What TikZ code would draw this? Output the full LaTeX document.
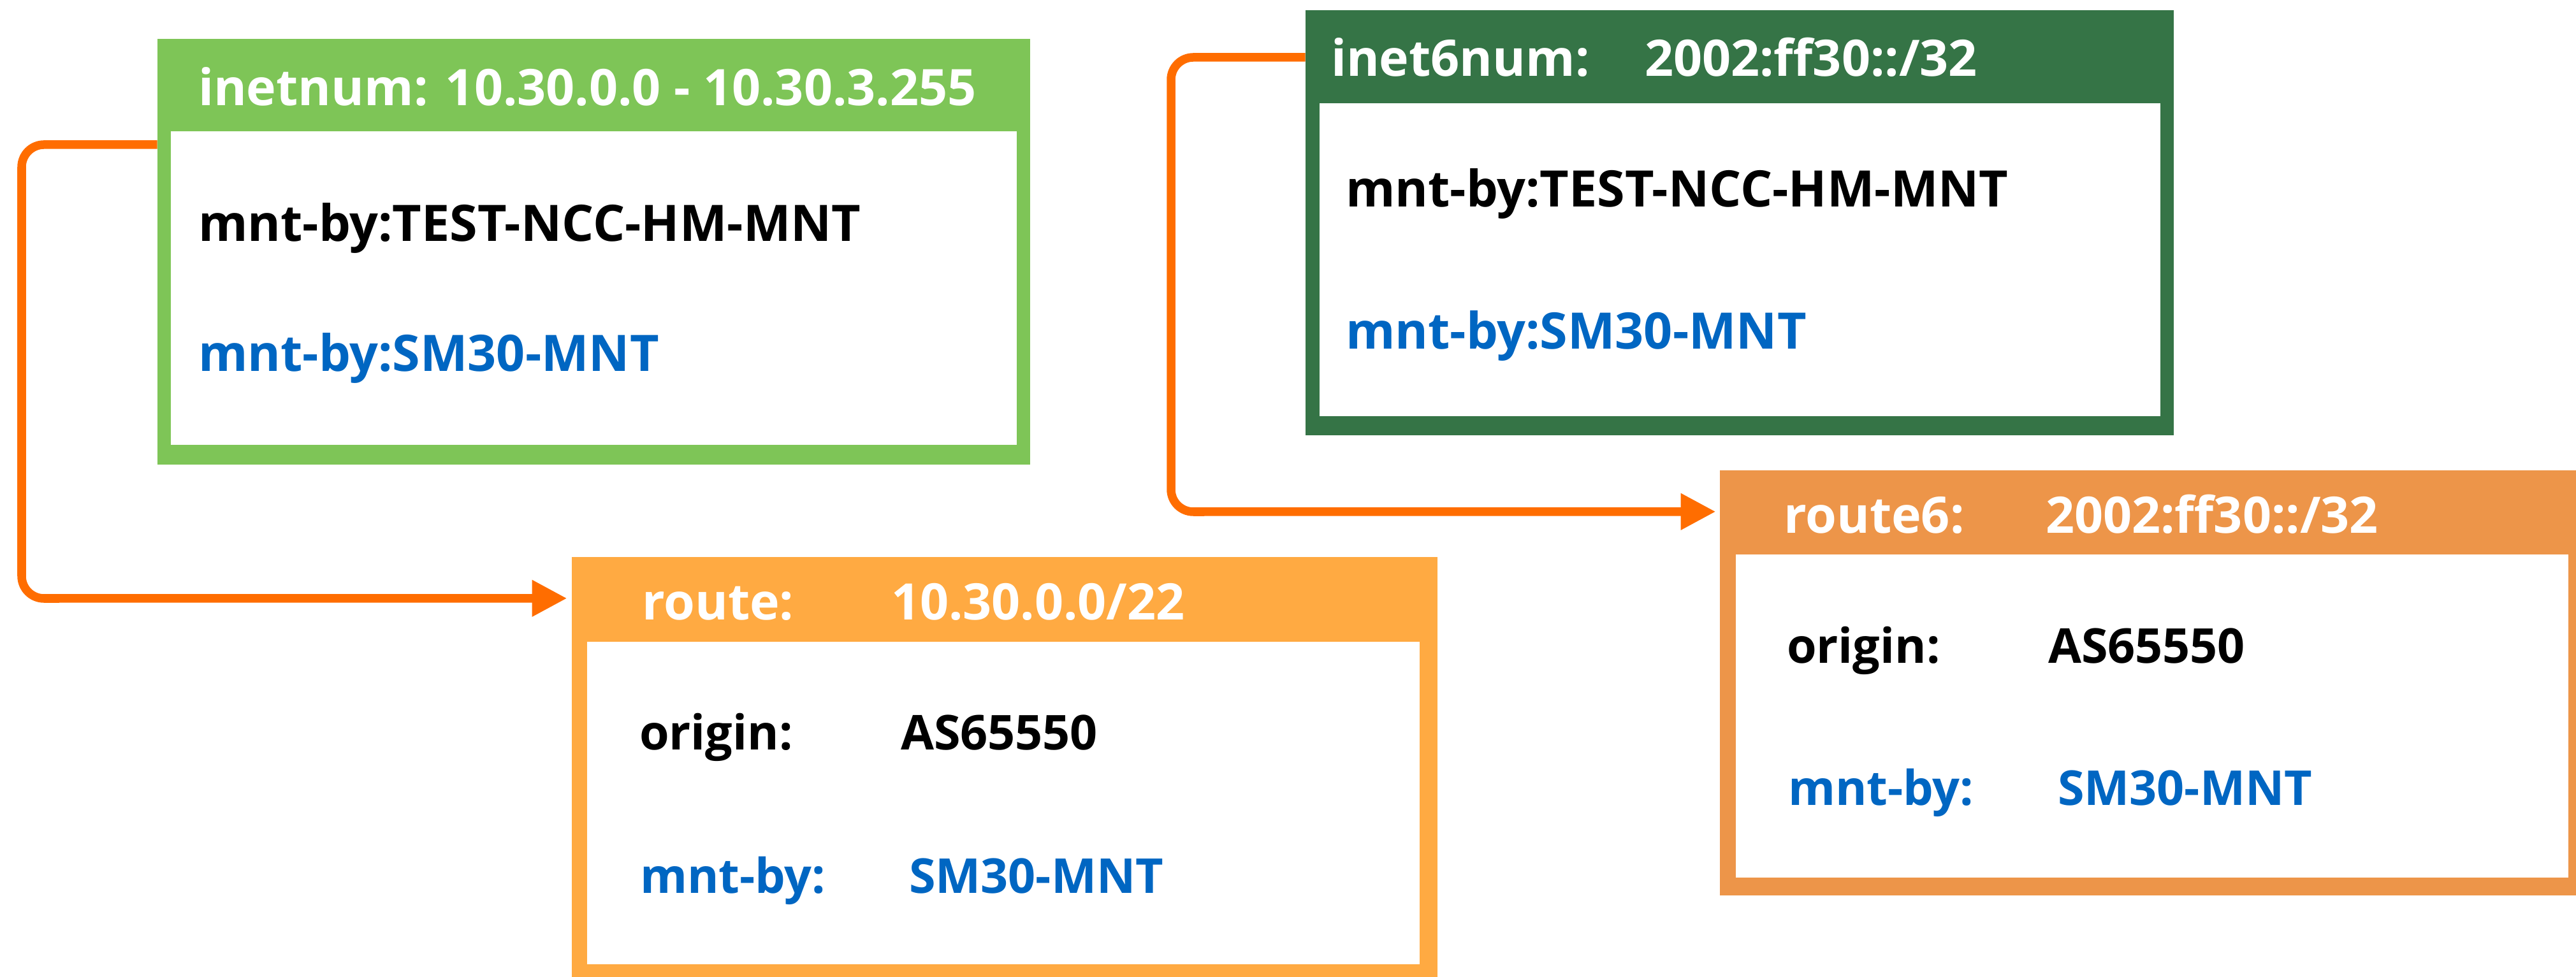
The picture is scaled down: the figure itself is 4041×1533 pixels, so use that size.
\documentclass[tikz,border=0pt]{standalone}
\usepackage{fontspec}
\setmainfont{Open Sans}
\usetikzlibrary{arrows.meta,calc}
\definecolor{lgreen}{HTML}{7EC557}
\definecolor{dgreen}{HTML}{357446}
\definecolor{rorange}{HTML}{FFAA42}
\definecolor{r6orange}{HTML}{ED9549}
\definecolor{conncol}{HTML}{FF6D00}
\definecolor{bluetxt}{HTML}{0066C2}
\tikzset{
  frame/.style={fill=#1, draw=none, inner sep=0pt, outer sep=0pt},
  inner/.style={fill=white, draw=none, inner sep=0pt, outer sep=0pt},
  txt/.style={anchor=base west, inner sep=0pt, outer sep=0pt, xshift=-0.06cm, font=\fontsize{22.45pt}{27pt}\selectfont\bfseries},
  small/.style={font=\fontsize{21.45pt}{26pt}\selectfont\bfseries},
  hdr/.style={txt, text=white},
  blk/.style={txt, text=black},
  blu/.style={txt, text=bluetxt},
  conn/.style={draw=conncol, line width=0.135cm, rounded corners=0.35cm,
    -{Triangle[length=0.55cm, width=0.54cm]}},
}
\begin{document}
\begin{tikzpicture}[x=0.01cm, y=-0.01cm]
\useasboundingbox (0,0) rectangle (4041,1533);
\clip (0,0) rectangle (4041,1533);
% inetnum
\node[frame=lgreen, minimum width=13.69cm, minimum height=6.68cm] (inetnum) at (931.5,395) {};
\node[inner, minimum width=13.27cm, minimum height=4.92cm] (inetnumbody) at (931.5,452) {};
\node[hdr] (inetnumhdr) at (317,165) {inetnum: 10.30.0.0 - 10.30.3.255};
\node[blk] (inetnuma) at (317,378) {mnt-by:TEST-NCC-HM-MNT};
\node[blu] (inetnumb) at (317,582) {mnt-by:SM30-MNT};
% inet6num
\node[frame=dgreen, minimum width=13.62cm, minimum height=6.67cm] (inet6num) at (2729,349.5) {};
\node[inner, minimum width=13.19cm, minimum height=4.91cm] (inet6numbody) at (2729.5,407.5) {};
\node[hdr] (inet6numhdr) at (2094,120) {inet6num:};
\node[hdr] (inet6numval) at (2586,120) {2002:ff30::/32};
\node[blk] (inet6numa) at (2117,324) {mnt-by:TEST-NCC-HM-MNT};
\node[blu] (inet6numb) at (2117,547) {mnt-by:SM30-MNT};
% route
\node[frame=rorange, minimum width=13.58cm, minimum height=6.59cm] (route) at (1576,1203.5) {};
\node[inner, minimum width=13.06cm, minimum height=5.06cm] (routebody) at (1574,1260) {};
\node[hdr] (routehdr) at (1013,972) {route:};
\node[hdr] (routeval) at (1404,972) {10.30.0.0/22};
\node[blk, small] (routeoa) at (1009,1176) {origin:};
\node[blk, small] (routeob) at (1419,1176) {AS65550};
\node[blu, small] (routema) at (1010,1401) {mnt-by:};
\node[blu, small] (routemb) at (1432,1401) {SM30-MNT};
% route6
\node[frame=r6orange, minimum width=13.55cm, minimum height=6.67cm] (route6) at (3375.5,1071.5) {};
\node[inner, minimum width=13.06cm, minimum height=5.07cm] (route6body) at (3376,1123.5) {};
\node[hdr] (route6hdr) at (2804,836) {route6:};
\node[hdr] (route6val) at (3215,836) {2002:ff30::/32};
\node[blk, small] (route6oa) at (2809,1040) {origin:};
\node[blk, small] (route6ob) at (3219,1040) {AS65550};
\node[blu, small] (route6ma) at (2811,1263) {mnt-by:};
\node[blu, small] (route6mb) at (3234,1263) {SM30-MNT};
% connectors
\draw[conn] ($(inetnum.north west)+(0,166)$) -- (34,227) -- (34,939) -- ($(route.north west)+(-7,65)$);
\draw[conn] ($(inet6num.north west)+(0,74)$) -- (1837,90) -- (1837,803) -- ($(route6.north west)+(-6,65)$);
\end{tikzpicture}
\end{document}
